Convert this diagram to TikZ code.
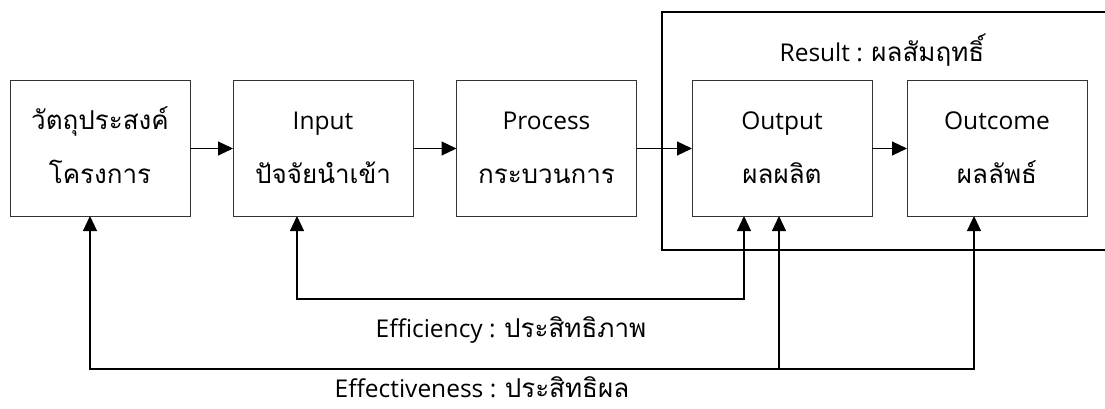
\documentclass[tikz,border=0pt]{standalone}
\usepackage{fontspec}
\setmainfont{Open Sans}
\newfontfamily\thai[Script=Thai]{Loma}
\newcommand\thaitext[1]{{\thai\fontsize{26}{28}\selectfont #1}}
\usetikzlibrary{arrows.meta}
\tikzset{
  box/.style={draw=black!80, line width=1pt, minimum width=180pt, minimum height=135pt, inner sep=0pt, outer sep=0pt},
  lbl/.style={anchor=base, inner sep=0pt, font=\fontsize{24.5}{26}\selectfont},
  link/.style={line width=1.1pt, -{Triangle[length=15pt,width=14pt]}},
  twoway/.style={line width=1.1pt, {Triangle[length=15pt,width=14pt]}-{Triangle[length=15pt,width=14pt]}},
  frame/.style={line width=1.1pt}
}
\begin{document}
\begin{tikzpicture}[x=1pt,y=-1pt]
\useasboundingbox (0,0) rectangle (1105,409);

% results frame, open to the right
\coordinate (rTL) at (662,12);
\coordinate (rBL) at (662,250);
\coordinate (rTR) at (1106,12);
\coordinate (rBR) at (1106,250);
\draw[frame] (rTR) -- (rTL) -- (rBL) -- (rBR);

% the five stages
\node[box] (obj)  at (100,148.5) {};
\node[box] (inp)  at (323,148.5) {};
\node[box] (proc) at (546.5,148.5) {};
\node[box] (outp) at (782,148.5) {};
\node[box] (outc) at (997,148.5) {};

\node[lbl] (objA)  at (100,130) {\thaitext{วัตถุประสงค์}};
\node[lbl] (objB)  at (100,183) {\thaitext{โครงการ}};
\node[lbl] (inpA)  at (323,130) {Input};
\node[lbl] (inpB)  at (323,183) {\thaitext{ปัจจัยนำเข้า}};
\node[lbl] (procA) at (546.5,130) {Process};
\node[lbl] (procB) at (546.5,183) {\thaitext{กระบวนการ}};
\node[lbl] (outpA) at (782,130) {Output};
\node[lbl] (outpB) at (782,183) {\thaitext{ผลผลิต}};
\node[lbl] (outcA) at (997,130) {Outcome};
\node[lbl] (outcB) at (997,183) {\thaitext{ผลลัพธ์}};

\node[lbl] (res) at (882,62) {Result : \thaitext{ผลสัมฤทธิ์}};

% forward flow
\draw[link] (obj.east)  -- (inp.west);
\draw[link] (inp.east)  -- (proc.west);
\draw[link] (proc.east) -- (outp.west);
\draw[link] (outp.east) -- (outc.west);

% efficiency loop
\coordinate (effL) at (297,299);
\coordinate (effR) at (744,299);
\draw[twoway] (inp.south -| effL) -- (effL) -- (effR) -- (outp.south -| effR);
\node[lbl] (effT) at (511,337) {Efficiency : \thaitext{ประสิทธิภาพ}};

% effectiveness loop
\coordinate (evL) at (90,369);
\coordinate (evM) at (779,369);
\coordinate (evR) at (974,369);
\draw[link] (evR) -- (evL) -- (obj.south -| evL);
\draw[link] (evL) -- (evR) -- (outc.south -| evR);
\draw[link] (evM) -- (outp.south -| evM);
\node[lbl] (evT) at (482,397) {Effectiveness : \thaitext{ประสิทธิผล}};
\end{tikzpicture}
\end{document}
